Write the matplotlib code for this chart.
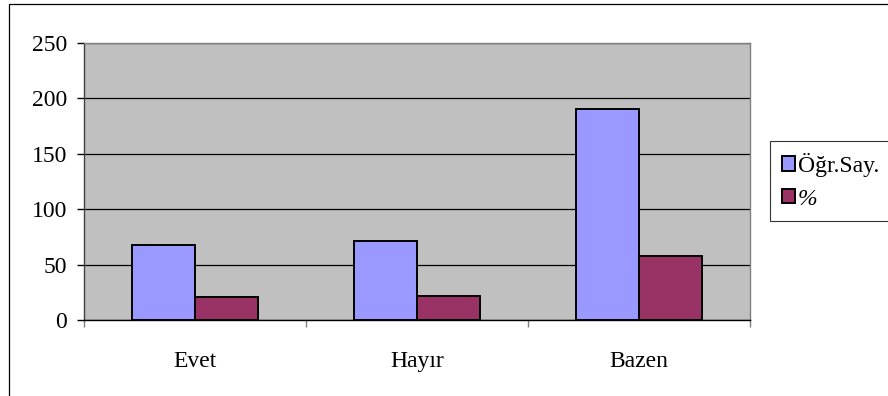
import matplotlib
matplotlib.use("Agg")
import matplotlib.pyplot as plt
import numpy as np
from matplotlib.patches import Rectangle

categories = ["Evet", "Hayır", "Bazen"]
series_names = ["Öğr.Say.", "%"]
ogr_say = [68, 71, 190]
yuzde = [20.7, 21.6, 57.8]
y_ticks = [0, 50, 100, 150, 200, 250]

plt.rcParams["font.family"] = ["Liberation Serif", "DejaVu Serif"]
FS = 17

fig = plt.figure(figsize=(8.88, 3.96), dpi=100)
ax = fig.add_axes([84 / 888, 1 - 320 / 396, 666 / 888, 277 / 396])

x = np.arange(len(categories))
bar_w = 1 / 3.5
ax.bar(x - bar_w / 2, ogr_say, width=bar_w, color="#9999FF", edgecolor="black",
       linewidth=1.4, label=series_names[0], zorder=3)
ax.bar(x + bar_w / 2, yuzde, width=bar_w, color="#993366", edgecolor="black",
       linewidth=1.4, label=series_names[1], zorder=3)

ax.set_facecolor("#C0C0C0")
ax.set_xlim(-0.5, len(categories) - 0.5)
ax.set_ylim(0, 250)
ax.set_yticks(y_ticks)
ax.yaxis.grid(True, color="black", linewidth=0.9, zorder=1)
ax.set_axisbelow(True)

ax.set_xticks(x)
ax.set_xticklabels(categories, fontsize=FS)
ax.set_xticks(np.arange(-0.5, len(categories)), minor=True)
ax.tick_params(axis="x", which="major", length=0, pad=22)
ax.tick_params(axis="x", which="minor", length=5, color="#808080", width=1, direction="out")
ax.tick_params(axis="y", length=5, width=1, color="black", direction="out", pad=7, labelsize=FS)

for side in ["top", "right"]:
    ax.spines[side].set_color("#808080")
    ax.spines[side].set_linewidth(1)
ax.spines["left"].set_color("#404040")
ax.spines["left"].set_linewidth(1)
ax.spines["bottom"].set_color("black")
ax.spines["bottom"].set_linewidth(1)

leg = fig.legend(loc="upper left", bbox_to_anchor=(770 / 888, 1 - 141 / 396),
                 fontsize=FS, frameon=True, fancybox=False, edgecolor="black",
                 handlelength=0.55, handleheight=0.55, handletextpad=0.12,
                 labelspacing=0.5, borderpad=0.5, borderaxespad=0)
leg.get_frame().set_linewidth(0.8)
leg.get_texts()[1].set_style("italic")

fig.patches.append(Rectangle((9 / 888, -0.1), 1.0, 1.1 - 4 / 396, transform=fig.transFigure,
                             fill=False, edgecolor="black", linewidth=0.9))

fig.savefig("out.png", dpi=100, facecolor="white")
